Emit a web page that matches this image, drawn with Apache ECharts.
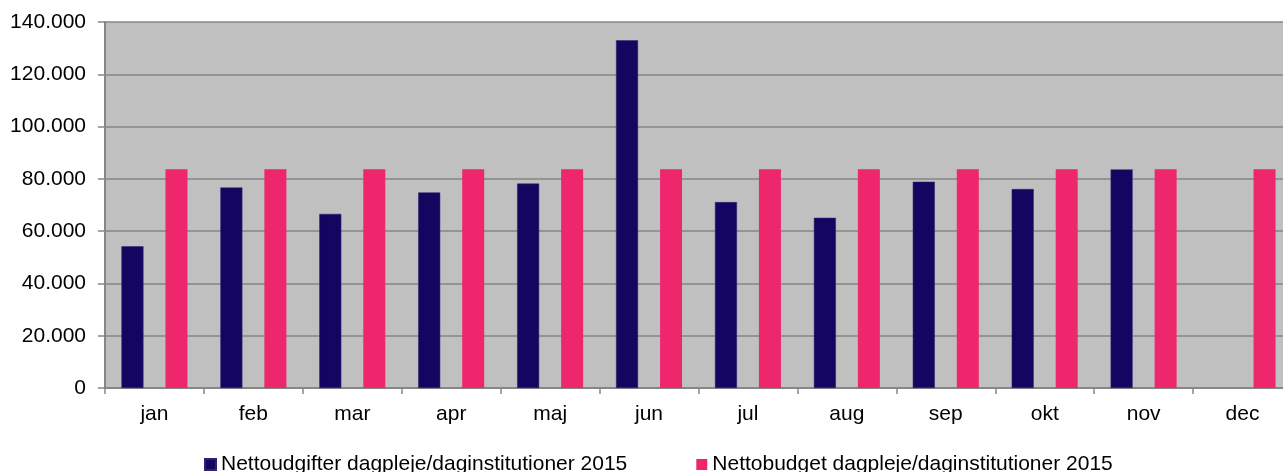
<!DOCTYPE html>
<html><head><meta charset="utf-8">
<script src="https://cdn.jsdelivr.net/npm/echarts@6/dist/echarts.min.js"></script>
<style>html,body{margin:0;padding:0;background:#fff}#c{width:1283px;height:472px}</style>
</head><body><div id="c"></div>
<script>
const categories = ['jan','feb','mar','apr','maj','jun','jul','aug','sep','okt','nov','dec'];
const seriesNames = ['Nettoudgifter dagpleje/daginstitutioner 2015','Nettobudget dagpleje/daginstitutioner 2015'];
const udgifter = [54200, 76700, 66600, 74800, 78200, 133000, 71100, 65100, 78900, 76100, 83600, null];
const budget = [83700, 83700, 83700, 83700, 83700, 83700, 83700, 83700, 83700, 83700, 83700, 83700];
const yTicks = {min: 0, max: 140000, interval: 20000};

const fmt = v => String(v).replace(/\B(?=(\d{3})+(?!\d))/g, '.');
const font = '"Liberation Sans", Arial, sans-serif';
const chart = echarts.init(document.getElementById('c'), null, {renderer: 'canvas'});
chart.setOption({
  animation: false,
  textStyle: {fontFamily: font},
  grid: {left: 105, width: 1187, top: 22, height: 366, show: true, backgroundColor: '#C0C0C0', borderWidth: 0,
         outerBoundsMode: 'none', containLabel: false},
  legend: {
    left: 199, top: 449, itemWidth: 11, itemHeight: 11, itemGap: 69, icon: 'rect',
    textStyle: {fontSize: 21, color: '#000', fontFamily: font},
    data: seriesNames
  },
  xAxis: {
    type: 'category', data: categories,
    axisLine: {lineStyle: {color: '#868686', width: 2}},
    axisTick: {show: true, length: 6, lineStyle: {color: '#868686', width: 1.5}},
    axisLabel: {fontSize: 21, color: '#000', margin: 16, fontFamily: font},
    splitLine: {show: false}
  },
  yAxis: {
    type: 'value', min: yTicks.min, max: yTicks.max, interval: yTicks.interval,
    axisLine: {show: true, lineStyle: {color: '#868686', width: 2}},
    axisTick: {show: true, length: 7, lineStyle: {color: '#868686', width: 1.5}},
    axisLabel: {fontSize: 21, color: '#000', margin: 19, formatter: fmt, fontFamily: font},
    splitLine: {show: true, lineStyle: {color: '#868686', width: 1.5}}
  },
  series: [
    {name: seriesNames[0], type: 'bar', data: udgifter, barWidth: 22, barGap: '100%',
     itemStyle: {color: '#140660', borderColor: '#2a2470', borderWidth: 0.5}},
    {name: seriesNames[1], type: 'bar', data: budget, barWidth: 22,
     itemStyle: {color: '#EE276C'}}
  ]
});
</script></body></html>
